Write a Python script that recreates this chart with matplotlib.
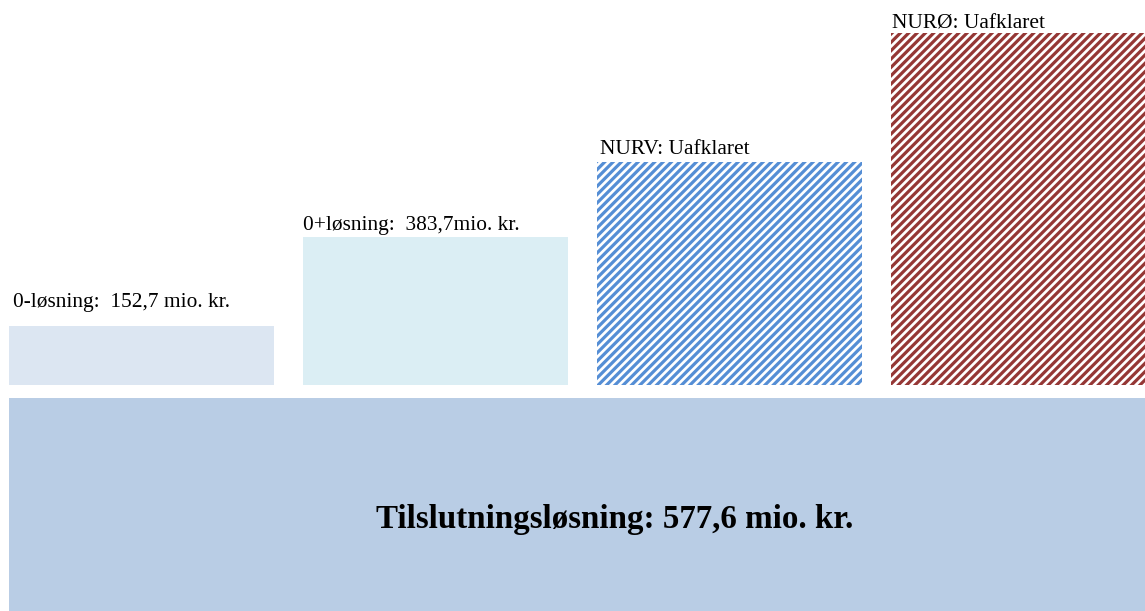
import numpy as np
import matplotlib.pyplot as plt

labels = ['0-løsning:  152,7 mio. kr.', '0+løsning:  383,7mio. kr.',
          'NURV: Uafklaret', 'NURØ: Uafklaret']
values = [152.7, 383.7, 577.0, 911.0]
base_label = 'Tilslutningsløsning: 577,6 mio. kr.'
base_value = 577.6

face = ['#dce6f2', '#dbeef4', 'none', 'none']
edge = ['none', 'none', '#558ed5', '#953735']
hatch = [None, None, '////', '////']
label_gap = [49, 18, 21, 10]   # space between bar top and text baseline
label_dx = [0.0136, 0.0, 0.01, 0.003]

plt.rcParams['font.family'] = ['Liberation Serif', 'DejaVu Serif']
plt.rcParams['hatch.linewidth'] = 2.3

fig = plt.figure(figsize=(11.45, 6.11), dpi=100)
ax = fig.add_axes([0, 0, 1, 1])

x = np.arange(len(values))
width = 0.9
bars = ax.bar(x, values, width=width, color=face, edgecolor=edge, linewidth=0)
for b, h in zip(bars, hatch):
    if h:
        b.set_hatch(h)

for i, b in enumerate(bars):
    ax.text(b.get_x() + label_dx[i], b.get_height() + label_gap[i], labels[i],
            ha='left', va='baseline', fontsize=15.4, color='black')

# base block underneath
base_top = -33.6
ax.bar(-0.4507, -base_value, bottom=base_top, width=3.9, align='edge',
       color='#b9cde5', linewidth=0)
ax.text(1.61, -347, base_label,
        ha='center', va='center', fontsize=23.8, fontweight='bold')

ax.set_xlim(-0.481, 3.413)
ax.set_ylim(-585, 996)
ax.axis('off')

fig.savefig('out.png', dpi=100, facecolor='white')
